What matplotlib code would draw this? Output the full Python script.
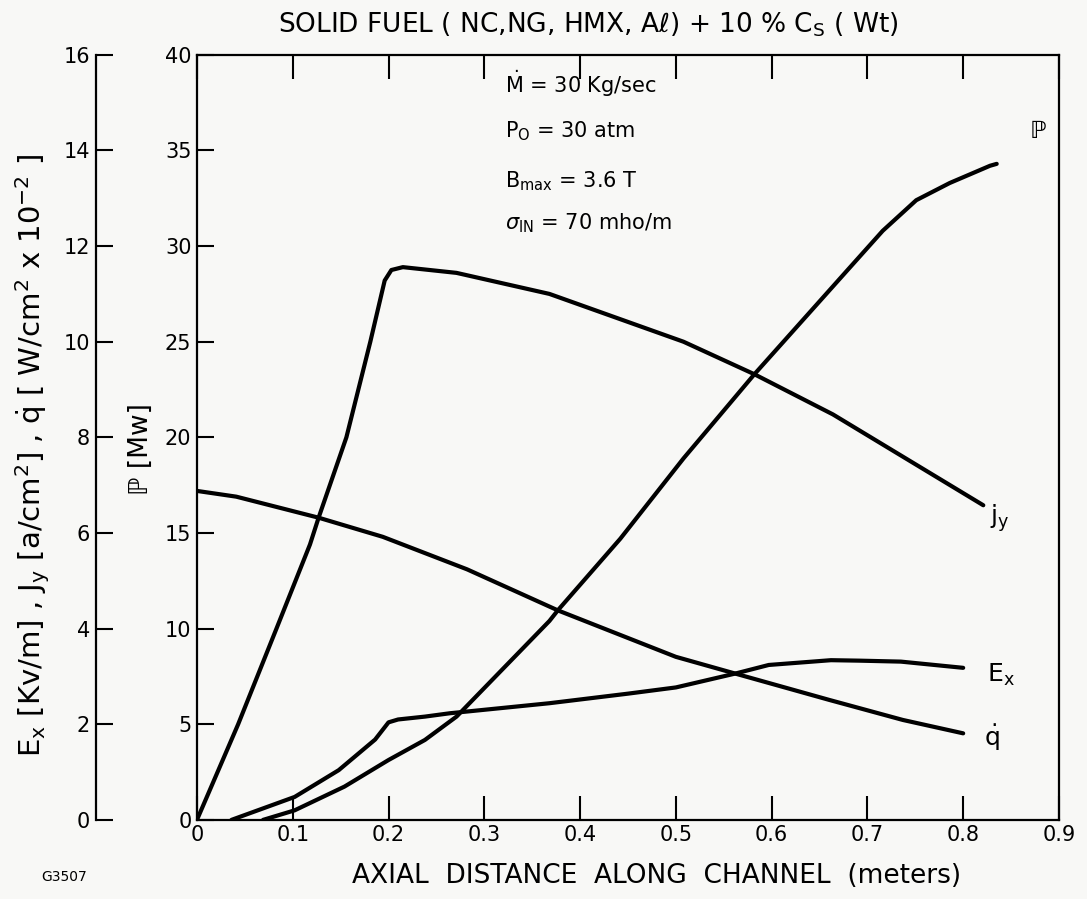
import matplotlib
matplotlib.use('Agg')
import matplotlib.pyplot as plt

plt.rcParams['font.family'] = ['DejaVu Sans']
plt.rcParams['mathtext.fontset'] = 'dejavusans'

# P [Mw] (inner left axis)
p_x = [0.069, 0.102, 0.154, 0.20, 0.238, 0.271, 0.368, 0.377, 0.442, 0.508, 0.582, 0.682, 0.716, 0.751, 0.786, 0.828, 0.835]
p_y = [0.0, 0.5, 1.74, 3.13, 4.18, 5.4, 10.4, 10.97, 14.7, 18.9, 23.3, 28.9, 30.8, 32.4, 33.3, 34.2, 34.3]

# j_y [a/cm^2] (outer left axis)
jy_x = [0.0, 0.043, 0.083, 0.118, 0.127, 0.156, 0.181, 0.196, 0.203, 0.215, 0.271, 0.368, 0.508, 0.582, 0.664, 0.821]
jy_y = [0.0, 2.0, 4.0, 5.76, 6.32, 8.0, 10.0, 11.28, 11.5, 11.56, 11.44, 11.0, 10.0, 9.32, 8.48, 6.58]

# E_x [Kv/m]
ex_x = [0.036, 0.102, 0.148, 0.186, 0.20, 0.21, 0.238, 0.264, 0.368, 0.45, 0.50, 0.562, 0.597, 0.662, 0.692, 0.735, 0.80]
ex_y = [0.0, 0.48, 1.04, 1.68, 2.04, 2.1, 2.16, 2.23, 2.44, 2.64, 2.77, 3.06, 3.24, 3.34, 3.33, 3.31, 3.18]

# q dot [W/cm^2 x 10^-2]
qd_x = [0.0, 0.041, 0.127, 0.194, 0.282, 0.377, 0.50, 0.562, 0.66, 0.737, 0.80]
qd_y = [6.88, 6.76, 6.32, 5.92, 5.24, 4.38, 3.41, 3.06, 2.51, 2.09, 1.81]

x_ticks = [0, 0.1, 0.2, 0.3, 0.4, 0.5, 0.6, 0.7, 0.8, 0.9]
x_labels = ['0', '0.1', '0.2', '0.3', '0.4', '0.5', '0.6', '0.7', '0.8', '0.9']
p_ticks = [0, 5, 10, 15, 20, 25, 30, 35, 40]
left_ticks = [0, 2, 4, 6, 8, 10, 12, 14, 16]

bg = '#f8f8f6'
fig = plt.figure(figsize=(10.87, 8.99), dpi=100, facecolor=bg)
ax = fig.add_axes([0.1812, 0.088, 0.7930, 0.851])
ax.set_facecolor(bg)

ax.plot(p_x, p_y, color='black', lw=3, solid_capstyle='round', solid_joinstyle='round')
ax.set_xlim(0, 0.9)
ax.set_ylim(0, 40)
ax.set_xticks(x_ticks)
ax.set_xticklabels(x_labels)
ax.set_yticks(p_ticks)
ax.tick_params(axis='x', direction='in', length=17, width=1.5, top=True, labelsize=15, pad=4)
ax.tick_params(axis='y', direction='in', length=12, width=1.5, right=True, labelsize=15, pad=4)
for s in ax.spines.values():
    s.set_linewidth(1.6)

# outer scale for E_x, j_y, q dot
ax2 = ax.twinx()
ax2.set_ylim(0, 16)
ax2.yaxis.set_ticks_position('left')
ax2.yaxis.set_label_position('left')
ax2.spines['left'].set_position(('outward', 73))
ax2.spines['left'].set_linewidth(1.6)
for side in ['right', 'top', 'bottom']:
    ax2.spines[side].set_visible(False)
ax2.set_yticks(left_ticks)
ax2.tick_params(axis='y', direction='in', length=12, width=1.5, labelsize=15, pad=4)

for xs, ys in [(jy_x, jy_y), (ex_x, ex_y), (qd_x, qd_y)]:
    ax2.plot(xs, ys, color='black', lw=3, solid_capstyle='round', solid_joinstyle='round')

# curve labels
ax.text(0.878, 36.0, 'ℙ', fontsize=17, ha='center', va='center')
ax.text(0.838, 15.8, '$\\mathrm{j_y}$', fontsize=18, ha='center', va='center')
ax.text(0.825, 7.6, '$\\mathrm{E_x}$', fontsize=18, ha='left', va='center')
ax.text(0.822, 4.3, '$\\dot{\\mathrm{q}}$', fontsize=18, ha='left', va='center')

# conditions
ax.text(0.322, 38.5, '$\\dot{\\mathrm{M}}$ = 30 Kg/sec', fontsize=15, va='center')
ax.text(0.322, 36.0, '$\\mathrm{P_O}$ = 30 atm', fontsize=15, va='center')
ax.text(0.322, 33.4, '$\\mathrm{B_{max}}$ = 3.6 T', fontsize=15, va='center')
ax.text(0.322, 31.2, '$\\sigma_{\\mathrm{IN}}$ = 70 mho/m', fontsize=15, va='center')

fig.text(0.541, 0.972, 'SOLID FUEL ( NC,NG, HMX, Aℓ) + 10 % C$_\\mathrm{S}$ ( Wt)',
         fontsize=19, ha='center', va='center')
fig.text(0.604, 0.026, 'AXIAL  DISTANCE  ALONG  CHANNEL  (meters)',
         fontsize=19, ha='center', va='center')
fig.text(0.130, 0.50, 'ℙ [Mw]', fontsize=19, rotation=90, ha='center', va='center')
fig.text(0.030, 0.493,
         'E$_\\mathrm{x}$ [Kv/m] , J$_\\mathrm{y}$ [a/cm$^2$] , $\\dot{\\mathrm{q}}$ [ W/cm$^2$ x 10$^{-2}$ ]',
         fontsize=21, rotation=90, ha='center', va='center')
fig.text(0.038, 0.024, 'G3507', fontsize=10, ha='left', va='center')

fig.savefig('out.png', dpi=100, facecolor=bg)
